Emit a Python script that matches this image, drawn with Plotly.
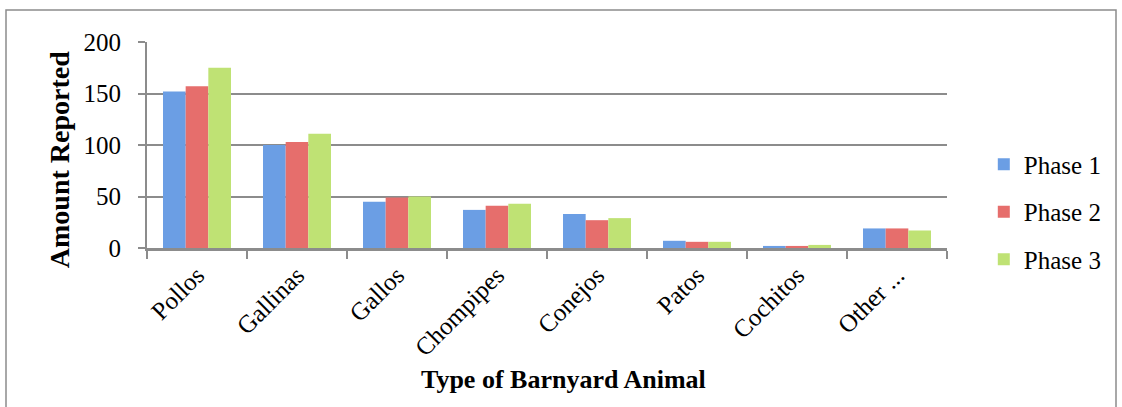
import plotly.graph_objects as go

# Barnyard animals reported per survey phase
animals = ["Pollos", "Gallinas", "Gallos", "Chompipes", "Conejos", "Patos", "Cochitos", "Other ..."]
phase1 = [152, 100, 45, 37, 33, 7, 2, 19]
phase2 = [157, 103, 49, 41, 27, 6, 2, 19]
phase3 = [175, 111, 50, 43, 29, 6, 3, 17]

series_names = ["Phase 1", "Phase 2", "Phase 3"]
series_values = [phase1, phase2, phase3]
series_colors = ["#6b9ee4", "#e66e6c", "#bfe274"]

y_ticks = [0, 50, 100, 150, 200]

FONT = "Liberation Serif"

fig = go.Figure()
for i, (name, vals, col) in enumerate(zip(series_names, series_values, series_colors)):
    fig.add_trace(go.Bar(
        x=animals, y=vals, name=name,
        marker=dict(color=col, line=dict(width=0)),
        legendgroup=f"g{i}",
    ))

fig.update_layout(
    width=1122, height=407,
    margin=dict(l=147, r=175, t=42, b=159),
    paper_bgcolor="white", plot_bgcolor="white",
    barmode="group", bargap=0.32, bargroupgap=0.0,
    font=dict(family=FONT, size=24, color="black"),
    showlegend=True,
    legend=dict(
        x=1.046, xanchor="left", y=0.175, yanchor="middle",
        font=dict(family=FONT, size=25), tracegroupgap=12,
        bgcolor="rgba(0,0,0,0)", itemwidth=30,
    ),
    xaxis=dict(
        type="category", tickson="boundaries",
        tickangle=-45, ticks="outside", ticklen=8, tickwidth=2, tickcolor="#8c8c8c",
        showline=True, linecolor="#8c8c8c", linewidth=2.5,
        showgrid=False, tickfont=dict(family=FONT, size=25),
        range=[-0.5, 7.5],
    ),
    yaxis=dict(
        range=[0, 200], tickvals=y_ticks,
        ticks="outside", ticklen=7, tickwidth=2, tickcolor="#8c8c8c",
        showline=True, linecolor="#8c8c8c", linewidth=2,
        showgrid=True, gridcolor="#8c8c8c", gridwidth=2,
        zeroline=False, ticklabelstandoff=12,
        tickfont=dict(family=FONT, size=25),
    ),
)

# Y-axis title
fig.add_annotation(
    text="<b>Amount Reported</b>", xref="paper", yref="paper",
    x=-0.109, y=0.43, xanchor="center", yanchor="middle", showarrow=False,
    textangle=-90, font=dict(family=FONT, size=28),
)

# X-axis title placed below the rotated labels
fig.add_annotation(
    text="<b>Type of Barnyard Animal</b>", xref="paper", yref="paper",
    x=0.52, y=-0.56, xanchor="center", yanchor="top", showarrow=False,
    font=dict(family=FONT, size=26),
)

# Chart border
fig.add_shape(
    type="rect", xref="paper", yref="paper",
    x0=-0.17625, x1=1.21125, y0=-0.9, y1=1.1553,
    line=dict(color="#8c8c8c", width=1.5), fillcolor="rgba(0,0,0,0)", layer="below",
)

fig.write_html("out.html")
